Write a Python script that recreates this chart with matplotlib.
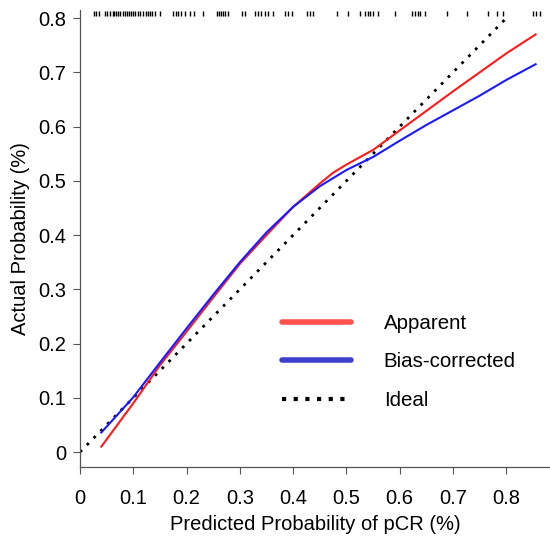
import matplotlib
matplotlib.use("Agg")
import matplotlib.pyplot as plt
from matplotlib.lines import Line2D
import numpy as np

plt.rcParams['font.family'] = ['Liberation Sans', 'DejaVu Sans']

# calibration curves
apparent_x = [0.04, 0.1, 0.15, 0.2, 0.25, 0.3, 0.35, 0.4, 0.45, 0.475, 0.5, 0.55, 0.6, 0.65, 0.7, 0.75, 0.8, 0.855]
apparent_y = [0.01, 0.09, 0.16, 0.222, 0.285, 0.347, 0.40, 0.452, 0.495, 0.515, 0.530, 0.557, 0.593, 0.629, 0.665, 0.70, 0.735, 0.77]

corrected_x = [0.04, 0.1, 0.15, 0.2, 0.25, 0.3, 0.35, 0.4, 0.45, 0.5, 0.55, 0.6, 0.65, 0.7, 0.75, 0.8, 0.855]
corrected_y = [0.036, 0.101, 0.165, 0.228, 0.29, 0.35, 0.405, 0.452, 0.49, 0.52, 0.544, 0.574, 0.603, 0.630, 0.657, 0.686, 0.715]

ideal = [0.0, 0.8]

# predicted probabilities shown as rug at the top
rug_x = [0.026, 0.030, 0.035, 0.047, 0.051, 0.056, 0.061, 0.064, 0.068, 0.071, 0.075, 0.081,
         0.084, 0.088, 0.092, 0.096, 0.099, 0.103, 0.109, 0.113, 0.118, 0.124, 0.128, 0.131,
         0.135, 0.141, 0.150, 0.174, 0.180, 0.184, 0.189, 0.197, 0.206, 0.214, 0.231, 0.257,
         0.261, 0.265, 0.268, 0.272, 0.278, 0.304, 0.310, 0.328, 0.334, 0.340, 0.347, 0.353,
         0.362, 0.385, 0.390, 0.398, 0.426, 0.432, 0.437, 0.482, 0.503, 0.525, 0.535, 0.540,
         0.544, 0.550, 0.559, 0.591, 0.623, 0.629, 0.634, 0.638, 0.647, 0.689, 0.726, 0.765,
         0.782, 0.794, 0.850, 0.856, 0.863]

xticks = [0, 0.1, 0.2, 0.3, 0.4, 0.5, 0.6, 0.7, 0.8]
yticks = [0, 0.1, 0.2, 0.3, 0.4, 0.5, 0.6, 0.7, 0.8]

fig = plt.figure(figsize=(5.5, 5.37), dpi=100)
ax = fig.add_axes([0.1455, 0.1304, 0.8545, 0.851])

ax.plot(ideal, ideal, color='black', lw=2, linestyle=(0, (1, 2.5)))
ax.plot(apparent_x, apparent_y, color='#ff1a1a', lw=1.5)
ax.plot(corrected_x, corrected_y, color='#1a1aff', lw=1.5)
ax.vlines(rug_x, 0.803, 0.813, color='black', lw=1.0)

ax.set_xlim(0, 0.882)
ax.set_ylim(-0.0276, 0.815)
ax.set_xticks(xticks)
ax.set_xticklabels(['0' if t == 0 else str(t) for t in xticks])
ax.set_yticks(yticks)
ax.set_yticklabels(['0' if t == 0 else str(t) for t in yticks])
ax.tick_params(labelsize=14.5, length=5, width=0.8, color='#555555', pad=11)
ax.tick_params(axis='y', pad=5)
for s in ['top', 'right']:
    ax.spines[s].set_visible(False)
for s in ['left', 'bottom']:
    ax.spines[s].set_color('#555555')
    ax.spines[s].set_linewidth(0.9)

ax.set_xlabel('Predicted Probability of pCR (%)', fontsize=14.5, labelpad=5)
ax.set_ylabel('Actual Probability (%)', fontsize=14.5, labelpad=6)

handles = [Line2D([], [], color='#ff5050', lw=4, solid_capstyle='round'),
           Line2D([], [], color='#4040d0', lw=4, solid_capstyle='round'),
           Line2D([], [], color='black', lw=3, linestyle=(0, (1, 1.8)))]
ax.legend(handles, ['Apparent', 'Bias-corrected', 'Ideal'], loc='upper left',
          bbox_to_anchor=(0.43, 0.335), frameon=False, fontsize=14.8,
          handlelength=3.35, handletextpad=1.6, labelspacing=0.95,
          borderpad=0, borderaxespad=0)

fig.savefig('out.png', dpi=100)
